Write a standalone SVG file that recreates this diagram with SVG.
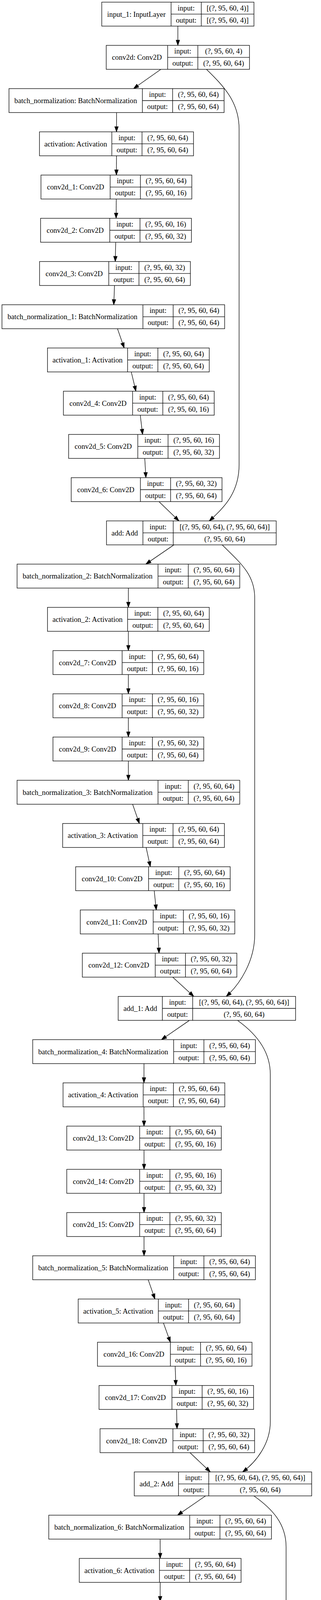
<svg xmlns="http://www.w3.org/2000/svg" width="823" height="5385" viewBox="0 0 823 5385">
<style>
.box{fill:#fff;stroke:#000;stroke-width:1.33}
.dv{fill:none;stroke:#000;stroke-width:1.33}
text{font-family:"Liberation Serif","Times New Roman",serif;font-size:18.67px;text-anchor:middle;fill:#000}
.e{fill:none;stroke:#000;stroke-width:1.33;marker-end:url(#arr)}
</style>
<defs>
<marker id="arr" markerUnits="userSpaceOnUse" viewBox="-1 -1 16 12" markerWidth="16" markerHeight="12" refX="13.33" refY="4.67" orient="auto">
<path d="M0,0 L13.33,4.67 L0,9.33 z" fill="#000" stroke="#000" stroke-width="1"/>
</marker>
</defs>
<rect width="823" height="5385" fill="#fff"/>
<g id="edges">
<path class="e" d="M456,66.83L456,116.17"/>
<path class="e" d="M412.44,177.5L342.36,226.83"/>
<path class="e" d="M298.8,288.17L298.7,337.5"/>
<path class="e" d="M298.62,398.83L298.48,448.17"/>
<path class="e" d="M298.12,509.5L297.68,558.83"/>
<path class="e" d="M296.68,620.17L295.52,669.5"/>
<path class="e" d="M293.61,730.83L291.69,780.17"/>
<path class="e" d="M301.2,841.5L318.4,890.83"/>
<path class="e" d="M336.53,952.17L348.47,1001.5"/>
<path class="e" d="M359.61,1062.83L365.59,1112.17"/>
<path class="e" d="M371.13,1173.5L374.07,1222.83"/>
<path class="e" d="M407.68,1284.17L458.82,1333.5"/>
<path class="e" d="M445.88,1394.83L373.92,1444.17"/>
<path class="e" d="M329.17,1505.5L329.13,1554.83"/>
<path class="e" d="M329.1,1616.17L329.1,1665.5"/>
<path class="e" d="M329.1,1726.83L329.1,1776.17"/>
<path class="e" d="M329.1,1837.5L329.1,1886.83"/>
<path class="e" d="M329.1,1948.17L329.2,1997.5"/>
<path class="e" d="M339.95,2058.83L357.25,2108.17"/>
<path class="e" d="M374.68,2169.5L385.42,2218.83"/>
<path class="e" d="M395.37,2280.17L400.63,2329.5"/>
<path class="e" d="M405.37,2390.83L407.73,2440.17"/>
<path class="e" d="M442.78,2501.5L496.82,2550.83"/>
<path class="e" d="M485.76,2612.17L413.94,2661.5"/>
<path class="e" d="M369.22,2722.83L369.08,2772.17"/>
<path class="e" d="M369.08,2833.5L369.22,2882.83"/>
<path class="e" d="M369.3,2944.17L369.3,2993.5"/>
<path class="e" d="M369.3,3054.83L369.3,3104.17"/>
<path class="e" d="M369.3,3165.5L369.3,3214.83"/>
<path class="e" d="M380,3276.17L397.2,3325.5"/>
<path class="e" d="M419.01,3386.83L436.89,3436.17"/>
<path class="e" d="M449.11,3497.5L450.89,3546.83"/>
<path class="e" d="M452.72,3608.17L453.88,3657.5"/>
<path class="e" d="M487.05,3718.83L539.25,3768.17"/>
<path class="e" d="M527.03,3829.5L455.17,3878.83"/>
<path class="e" d="M410.55,3940.17L410.65,3989.5"/>
<path class="e" d="M410.65,4050.83L410.55,4100.17"/>
<path class="e" d="M410.5,4161.5L410.5,4210.83"/>
<path class="e" d="M410.5,4272.17L410.5,4321.5"/>
<path class="e" d="M410.5,4382.83L410.5,4432.17"/>
<path class="e" d="M421.25,4493.5L438.55,4542.83"/>
<path class="e" d="M450.41,4604.17L452.19,4653.5"/>
<path class="e" d="M454.02,4714.83L455.18,4764.17"/>
<path class="e" d="M456.2,4825.5L456.7,4874.83"/>
<path class="e" d="M489.95,4936.17L542.95,4985.5"/>
<path class="e" d="M575.82,5046.83L575.68,5096.17"/>
<path class="e" d="M575.68,5157.5L575.82,5206.83"/>
<path class="e" d="M575.82,5268.17L575.68,5317.5"/>
<path class="e" d="M529.4,177.5C575,222 613,262 613,330L613,1190C613,1260 575,1300 536.5,1333.5"/>
<path class="e" d="M569.6,1394.83C615,1440 653,1470 653,1530L653,2393C653,2460 615,2520 580,2550.83"/>
<path class="e" d="M609,2612.17C655,2645 693,2690 693,2750L693,3640C693,3695 658,3742 622,3768.17"/>
<path class="e" d="M651,3829.5C697,3862 733.5,3900 733.5,3960L733.5,4811C733.5,4870 665,4925 622,4985.5"/>
</g>
<g id="input_1" transform="translate(260.9,5.5)"><rect class="box" width="390.2" height="61.33"/><path class="dv" d="M177.7,0V61.33M255.2,0V61.33M177.7,30.67H390.2"/><text x="88.85" y="37">input_1: InputLayer</text><text x="216.45" y="21.3">input:</text><text x="216.45" y="52">output:</text><text x="322.7" y="21.3">[(?, 95, 60, 4)]</text><text x="322.7" y="52">[(?, 95, 60, 4)]</text></g>
<g id="conv2d" transform="translate(272.4,116.17)"><rect class="box" width="367.2" height="61.33"/><path class="dv" d="M157.4,0V61.33M234.9,0V61.33M157.4,30.67H367.2"/><text x="78.7" y="37">conv2d: Conv2D</text><text x="196.15" y="21.3">input:</text><text x="196.15" y="52">output:</text><text x="301.05" y="21.3">(?, 95, 60, 4)</text><text x="301.05" y="52">(?, 95, 60, 64)</text></g>
<g id="batch_normalization" transform="translate(23.05,226.83)"><rect class="box" width="551.5" height="61.33"/><path class="dv" d="M342,0V61.33M419.5,0V61.33M342,30.67H551.5"/><text x="171" y="37">batch_normalization: BatchNormalization</text><text x="380.75" y="21.3">input:</text><text x="380.75" y="52">output:</text><text x="485.5" y="21.3">(?, 95, 60, 64)</text><text x="485.5" y="52">(?, 95, 60, 64)</text></g>
<g id="activation" transform="translate(101.25,337.5)"><rect class="box" width="394.9" height="61.33"/><path class="dv" d="M185.4,0V61.33M262.9,0V61.33M185.4,30.67H394.9"/><text x="92.7" y="37">activation: Activation</text><text x="224.15" y="21.3">input:</text><text x="224.15" y="52">output:</text><text x="328.9" y="21.3">(?, 95, 60, 64)</text><text x="328.9" y="52">(?, 95, 60, 64)</text></g>
<g id="conv2d_1" transform="translate(105.05,448.17)"><rect class="box" width="386.7" height="61.33"/><path class="dv" d="M177.4,0V61.33M254.9,0V61.33M177.4,30.67H386.7"/><text x="88.7" y="37">conv2d_1: Conv2D</text><text x="216.15" y="21.3">input:</text><text x="216.15" y="52">output:</text><text x="320.8" y="21.3">(?, 95, 60, 64)</text><text x="320.8" y="52">(?, 95, 60, 16)</text></g>
<g id="conv2d_2" transform="translate(104.05,558.83)"><rect class="box" width="386.7" height="61.33"/><path class="dv" d="M177.4,0V61.33M254.9,0V61.33M177.4,30.67H386.7"/><text x="88.7" y="37">conv2d_2: Conv2D</text><text x="216.15" y="21.3">input:</text><text x="216.15" y="52">output:</text><text x="320.8" y="21.3">(?, 95, 60, 16)</text><text x="320.8" y="52">(?, 95, 60, 32)</text></g>
<g id="conv2d_3" transform="translate(101.45,669.5)"><rect class="box" width="386.7" height="61.33"/><path class="dv" d="M177.4,0V61.33M254.9,0V61.33M177.4,30.67H386.7"/><text x="88.7" y="37">conv2d_3: Conv2D</text><text x="216.15" y="21.3">input:</text><text x="216.15" y="52">output:</text><text x="320.8" y="21.3">(?, 95, 60, 32)</text><text x="320.8" y="52">(?, 95, 60, 64)</text></g>
<g id="batch_normalization_1" transform="translate(5.05,780.17)"><rect class="box" width="570.9" height="61.33"/><path class="dv" d="M361.4,0V61.33M438.9,0V61.33M361.4,30.67H570.9"/><text x="180.7" y="37">batch_normalization_1: BatchNormalization</text><text x="400.15" y="21.3">input:</text><text x="400.15" y="52">output:</text><text x="504.9" y="21.3">(?, 95, 60, 64)</text><text x="504.9" y="52">(?, 95, 60, 64)</text></g>
<g id="activation_1" transform="translate(121.7,890.83)"><rect class="box" width="414.8" height="61.33"/><path class="dv" d="M205.5,0V61.33M283,0V61.33M205.5,30.67H414.8"/><text x="102.75" y="37">activation_1: Activation</text><text x="244.25" y="21.3">input:</text><text x="244.25" y="52">output:</text><text x="348.9" y="21.3">(?, 95, 60, 64)</text><text x="348.9" y="52">(?, 95, 60, 64)</text></g>
<g id="conv2d_4" transform="translate(162.55,1001.5)"><rect class="box" width="386.7" height="61.33"/><path class="dv" d="M177.4,0V61.33M254.9,0V61.33M177.4,30.67H386.7"/><text x="88.7" y="37">conv2d_4: Conv2D</text><text x="216.15" y="21.3">input:</text><text x="216.15" y="52">output:</text><text x="320.8" y="21.3">(?, 95, 60, 64)</text><text x="320.8" y="52">(?, 95, 60, 16)</text></g>
<g id="conv2d_5" transform="translate(175.95,1112.17)"><rect class="box" width="386.7" height="61.33"/><path class="dv" d="M177.4,0V61.33M254.9,0V61.33M177.4,30.67H386.7"/><text x="88.7" y="37">conv2d_5: Conv2D</text><text x="216.15" y="21.3">input:</text><text x="216.15" y="52">output:</text><text x="320.8" y="21.3">(?, 95, 60, 16)</text><text x="320.8" y="52">(?, 95, 60, 32)</text></g>
<g id="conv2d_6" transform="translate(182.55,1222.83)"><rect class="box" width="386.7" height="61.33"/><path class="dv" d="M177.4,0V61.33M254.9,0V61.33M177.4,30.67H386.7"/><text x="88.7" y="37">conv2d_6: Conv2D</text><text x="216.15" y="21.3">input:</text><text x="216.15" y="52">output:</text><text x="320.8" y="21.3">(?, 95, 60, 32)</text><text x="320.8" y="52">(?, 95, 60, 64)</text></g>
<g id="add" transform="translate(273.05,1333.5)"><rect class="box" width="435.1" height="61.33"/><path class="dv" d="M93.4,0V61.33M171.1,0V61.33M93.4,30.67H435.1"/><text x="46.7" y="37">add: Add</text><text x="132.25" y="21.3">input:</text><text x="132.25" y="52">output:</text><text x="303.1" y="21.3">[(?, 95, 60, 64), (?, 95, 60, 64)]</text><text x="303.1" y="52">(?, 95, 60, 64)</text></g>
<g id="batch_normalization_2" transform="translate(43.75,1444.17)"><rect class="box" width="570.9" height="61.33"/><path class="dv" d="M361.4,0V61.33M438.9,0V61.33M361.4,30.67H570.9"/><text x="180.7" y="37">batch_normalization_2: BatchNormalization</text><text x="400.15" y="21.3">input:</text><text x="400.15" y="52">output:</text><text x="504.9" y="21.3">(?, 95, 60, 64)</text><text x="504.9" y="52">(?, 95, 60, 64)</text></g>
<g id="activation_2" transform="translate(121.7,1554.83)"><rect class="box" width="414.8" height="61.33"/><path class="dv" d="M205.5,0V61.33M283,0V61.33M205.5,30.67H414.8"/><text x="102.75" y="37">activation_2: Activation</text><text x="244.25" y="21.3">input:</text><text x="244.25" y="52">output:</text><text x="348.9" y="21.3">(?, 95, 60, 64)</text><text x="348.9" y="52">(?, 95, 60, 64)</text></g>
<g id="conv2d_7" transform="translate(135.75,1665.5)"><rect class="box" width="386.7" height="61.33"/><path class="dv" d="M177.4,0V61.33M254.9,0V61.33M177.4,30.67H386.7"/><text x="88.7" y="37">conv2d_7: Conv2D</text><text x="216.15" y="21.3">input:</text><text x="216.15" y="52">output:</text><text x="320.8" y="21.3">(?, 95, 60, 64)</text><text x="320.8" y="52">(?, 95, 60, 16)</text></g>
<g id="conv2d_8" transform="translate(135.75,1776.17)"><rect class="box" width="386.7" height="61.33"/><path class="dv" d="M177.4,0V61.33M254.9,0V61.33M177.4,30.67H386.7"/><text x="88.7" y="37">conv2d_8: Conv2D</text><text x="216.15" y="21.3">input:</text><text x="216.15" y="52">output:</text><text x="320.8" y="21.3">(?, 95, 60, 16)</text><text x="320.8" y="52">(?, 95, 60, 32)</text></g>
<g id="conv2d_9" transform="translate(135.75,1886.83)"><rect class="box" width="386.7" height="61.33"/><path class="dv" d="M177.4,0V61.33M254.9,0V61.33M177.4,30.67H386.7"/><text x="88.7" y="37">conv2d_9: Conv2D</text><text x="216.15" y="21.3">input:</text><text x="216.15" y="52">output:</text><text x="320.8" y="21.3">(?, 95, 60, 32)</text><text x="320.8" y="52">(?, 95, 60, 64)</text></g>
<g id="batch_normalization_3" transform="translate(43.75,1997.5)"><rect class="box" width="570.9" height="61.33"/><path class="dv" d="M361.4,0V61.33M438.9,0V61.33M361.4,30.67H570.9"/><text x="180.7" y="37">batch_normalization_3: BatchNormalization</text><text x="400.15" y="21.3">input:</text><text x="400.15" y="52">output:</text><text x="504.9" y="21.3">(?, 95, 60, 64)</text><text x="504.9" y="52">(?, 95, 60, 64)</text></g>
<g id="activation_3" transform="translate(160.6,2108.17)"><rect class="box" width="414.8" height="61.33"/><path class="dv" d="M205.5,0V61.33M283,0V61.33M205.5,30.67H414.8"/><text x="102.75" y="37">activation_3: Activation</text><text x="244.25" y="21.3">input:</text><text x="244.25" y="52">output:</text><text x="348.9" y="21.3">(?, 95, 60, 64)</text><text x="348.9" y="52">(?, 95, 60, 64)</text></g>
<g id="conv2d_10" transform="translate(194,2218.83)"><rect class="box" width="396.2" height="61.33"/><path class="dv" d="M186.9,0V61.33M264.4,0V61.33M186.9,30.67H396.2"/><text x="93.45" y="37">conv2d_10: Conv2D</text><text x="225.65" y="21.3">input:</text><text x="225.65" y="52">output:</text><text x="330.3" y="21.3">(?, 95, 60, 64)</text><text x="330.3" y="52">(?, 95, 60, 16)</text></g>
<g id="conv2d_11" transform="translate(205.8,2329.5)"><rect class="box" width="396.2" height="61.33"/><path class="dv" d="M186.9,0V61.33M264.4,0V61.33M186.9,30.67H396.2"/><text x="93.45" y="37">conv2d_11: Conv2D</text><text x="225.65" y="21.3">input:</text><text x="225.65" y="52">output:</text><text x="330.3" y="21.3">(?, 95, 60, 16)</text><text x="330.3" y="52">(?, 95, 60, 32)</text></g>
<g id="conv2d_12" transform="translate(211.1,2440.17)"><rect class="box" width="396.2" height="61.33"/><path class="dv" d="M186.9,0V61.33M264.4,0V61.33M186.9,30.67H396.2"/><text x="93.45" y="37">conv2d_12: Conv2D</text><text x="225.65" y="21.3">input:</text><text x="225.65" y="52">output:</text><text x="330.3" y="21.3">(?, 95, 60, 32)</text><text x="330.3" y="52">(?, 95, 60, 64)</text></g>
<g id="add_1" transform="translate(303,2550.83)"><rect class="box" width="454.8" height="61.33"/><path class="dv" d="M113.3,0V61.33M191,0V61.33M113.3,30.67H454.8"/><text x="56.65" y="37">add_1: Add</text><text x="152.15" y="21.3">input:</text><text x="152.15" y="52">output:</text><text x="322.9" y="21.3">[(?, 95, 60, 64), (?, 95, 60, 64)]</text><text x="322.9" y="52">(?, 95, 60, 64)</text></g>
<g id="batch_normalization_4" transform="translate(83.85,2661.5)"><rect class="box" width="570.9" height="61.33"/><path class="dv" d="M361.4,0V61.33M438.9,0V61.33M361.4,30.67H570.9"/><text x="180.7" y="37">batch_normalization_4: BatchNormalization</text><text x="400.15" y="21.3">input:</text><text x="400.15" y="52">output:</text><text x="504.9" y="21.3">(?, 95, 60, 64)</text><text x="504.9" y="52">(?, 95, 60, 64)</text></g>
<g id="activation_4" transform="translate(161.6,2772.17)"><rect class="box" width="414.8" height="61.33"/><path class="dv" d="M205.5,0V61.33M283,0V61.33M205.5,30.67H414.8"/><text x="102.75" y="37">activation_4: Activation</text><text x="244.25" y="21.3">input:</text><text x="244.25" y="52">output:</text><text x="348.9" y="21.3">(?, 95, 60, 64)</text><text x="348.9" y="52">(?, 95, 60, 64)</text></g>
<g id="conv2d_13" transform="translate(171.2,2882.83)"><rect class="box" width="396.2" height="61.33"/><path class="dv" d="M186.9,0V61.33M264.4,0V61.33M186.9,30.67H396.2"/><text x="93.45" y="37">conv2d_13: Conv2D</text><text x="225.65" y="21.3">input:</text><text x="225.65" y="52">output:</text><text x="330.3" y="21.3">(?, 95, 60, 64)</text><text x="330.3" y="52">(?, 95, 60, 16)</text></g>
<g id="conv2d_14" transform="translate(171.2,2993.5)"><rect class="box" width="396.2" height="61.33"/><path class="dv" d="M186.9,0V61.33M264.4,0V61.33M186.9,30.67H396.2"/><text x="93.45" y="37">conv2d_14: Conv2D</text><text x="225.65" y="21.3">input:</text><text x="225.65" y="52">output:</text><text x="330.3" y="21.3">(?, 95, 60, 16)</text><text x="330.3" y="52">(?, 95, 60, 32)</text></g>
<g id="conv2d_15" transform="translate(171.2,3104.17)"><rect class="box" width="396.2" height="61.33"/><path class="dv" d="M186.9,0V61.33M264.4,0V61.33M186.9,30.67H396.2"/><text x="93.45" y="37">conv2d_15: Conv2D</text><text x="225.65" y="21.3">input:</text><text x="225.65" y="52">output:</text><text x="330.3" y="21.3">(?, 95, 60, 32)</text><text x="330.3" y="52">(?, 95, 60, 64)</text></g>
<g id="batch_normalization_5" transform="translate(83.85,3214.83)"><rect class="box" width="570.9" height="61.33"/><path class="dv" d="M361.4,0V61.33M438.9,0V61.33M361.4,30.67H570.9"/><text x="180.7" y="37">batch_normalization_5: BatchNormalization</text><text x="400.15" y="21.3">input:</text><text x="400.15" y="52">output:</text><text x="504.9" y="21.3">(?, 95, 60, 64)</text><text x="504.9" y="52">(?, 95, 60, 64)</text></g>
<g id="activation_5" transform="translate(200.5,3325.5)"><rect class="box" width="414.8" height="61.33"/><path class="dv" d="M205.5,0V61.33M283,0V61.33M205.5,30.67H414.8"/><text x="102.75" y="37">activation_5: Activation</text><text x="244.25" y="21.3">input:</text><text x="244.25" y="52">output:</text><text x="348.9" y="21.3">(?, 95, 60, 64)</text><text x="348.9" y="52">(?, 95, 60, 64)</text></g>
<g id="conv2d_16" transform="translate(249.9,3436.17)"><rect class="box" width="396.2" height="61.33"/><path class="dv" d="M186.9,0V61.33M264.4,0V61.33M186.9,30.67H396.2"/><text x="93.45" y="37">conv2d_16: Conv2D</text><text x="225.65" y="21.3">input:</text><text x="225.65" y="52">output:</text><text x="330.3" y="21.3">(?, 95, 60, 64)</text><text x="330.3" y="52">(?, 95, 60, 16)</text></g>
<g id="conv2d_17" transform="translate(253.9,3546.83)"><rect class="box" width="396.2" height="61.33"/><path class="dv" d="M186.9,0V61.33M264.4,0V61.33M186.9,30.67H396.2"/><text x="93.45" y="37">conv2d_17: Conv2D</text><text x="225.65" y="21.3">input:</text><text x="225.65" y="52">output:</text><text x="330.3" y="21.3">(?, 95, 60, 16)</text><text x="330.3" y="52">(?, 95, 60, 32)</text></g>
<g id="conv2d_18" transform="translate(256.5,3657.5)"><rect class="box" width="396.2" height="61.33"/><path class="dv" d="M186.9,0V61.33M264.4,0V61.33M186.9,30.67H396.2"/><text x="93.45" y="37">conv2d_18: Conv2D</text><text x="225.65" y="21.3">input:</text><text x="225.65" y="52">output:</text><text x="330.3" y="21.3">(?, 95, 60, 32)</text><text x="330.3" y="52">(?, 95, 60, 64)</text></g>
<g id="add_2" transform="translate(344.3,3768.17)"><rect class="box" width="454.8" height="61.33"/><path class="dv" d="M113.3,0V61.33M191,0V61.33M113.3,30.67H454.8"/><text x="56.65" y="37">add_2: Add</text><text x="152.15" y="21.3">input:</text><text x="152.15" y="52">output:</text><text x="322.9" y="21.3">[(?, 95, 60, 64), (?, 95, 60, 64)]</text><text x="322.9" y="52">(?, 95, 60, 64)</text></g>
<g id="batch_normalization_6" transform="translate(125.05,3878.83)"><rect class="box" width="570.9" height="61.33"/><path class="dv" d="M361.4,0V61.33M438.9,0V61.33M361.4,30.67H570.9"/><text x="180.7" y="37">batch_normalization_6: BatchNormalization</text><text x="400.15" y="21.3">input:</text><text x="400.15" y="52">output:</text><text x="504.9" y="21.3">(?, 95, 60, 64)</text><text x="504.9" y="52">(?, 95, 60, 64)</text></g>
<g id="activation_6" transform="translate(203.3,3989.5)"><rect class="box" width="414.8" height="61.33"/><path class="dv" d="M205.5,0V61.33M283,0V61.33M205.5,30.67H414.8"/><text x="102.75" y="37">activation_6: Activation</text><text x="244.25" y="21.3">input:</text><text x="244.25" y="52">output:</text><text x="348.9" y="21.3">(?, 95, 60, 64)</text><text x="348.9" y="52">(?, 95, 60, 64)</text></g>
<g id="conv2d_19" transform="translate(212.4,4100.17)"><rect class="box" width="396.2" height="61.33"/><path class="dv" d="M186.9,0V61.33M264.4,0V61.33M186.9,30.67H396.2"/><text x="93.45" y="37">conv2d_19: Conv2D</text><text x="225.65" y="21.3">input:</text><text x="225.65" y="52">output:</text><text x="330.3" y="21.3">(?, 95, 60, 64)</text><text x="330.3" y="52">(?, 95, 60, 16)</text></g>
<g id="conv2d_20" transform="translate(212.4,4210.83)"><rect class="box" width="396.2" height="61.33"/><path class="dv" d="M186.9,0V61.33M264.4,0V61.33M186.9,30.67H396.2"/><text x="93.45" y="37">conv2d_20: Conv2D</text><text x="225.65" y="21.3">input:</text><text x="225.65" y="52">output:</text><text x="330.3" y="21.3">(?, 95, 60, 16)</text><text x="330.3" y="52">(?, 95, 60, 32)</text></g>
<g id="conv2d_21" transform="translate(212.4,4321.5)"><rect class="box" width="396.2" height="61.33"/><path class="dv" d="M186.9,0V61.33M264.4,0V61.33M186.9,30.67H396.2"/><text x="93.45" y="37">conv2d_21: Conv2D</text><text x="225.65" y="21.3">input:</text><text x="225.65" y="52">output:</text><text x="330.3" y="21.3">(?, 95, 60, 32)</text><text x="330.3" y="52">(?, 95, 60, 64)</text></g>
<g id="batch_normalization_7" transform="translate(125.05,4432.17)"><rect class="box" width="570.9" height="61.33"/><path class="dv" d="M361.4,0V61.33M438.9,0V61.33M361.4,30.67H570.9"/><text x="180.7" y="37">batch_normalization_7: BatchNormalization</text><text x="400.15" y="21.3">input:</text><text x="400.15" y="52">output:</text><text x="504.9" y="21.3">(?, 95, 60, 64)</text><text x="504.9" y="52">(?, 95, 60, 64)</text></g>
<g id="activation_7" transform="translate(241.9,4542.83)"><rect class="box" width="414.8" height="61.33"/><path class="dv" d="M205.5,0V61.33M283,0V61.33M205.5,30.67H414.8"/><text x="102.75" y="37">activation_7: Activation</text><text x="244.25" y="21.3">input:</text><text x="244.25" y="52">output:</text><text x="348.9" y="21.3">(?, 95, 60, 64)</text><text x="348.9" y="52">(?, 95, 60, 64)</text></g>
<g id="conv2d_22" transform="translate(255.2,4653.5)"><rect class="box" width="396.2" height="61.33"/><path class="dv" d="M186.9,0V61.33M264.4,0V61.33M186.9,30.67H396.2"/><text x="93.45" y="37">conv2d_22: Conv2D</text><text x="225.65" y="21.3">input:</text><text x="225.65" y="52">output:</text><text x="330.3" y="21.3">(?, 95, 60, 64)</text><text x="330.3" y="52">(?, 95, 60, 16)</text></g>
<g id="conv2d_23" transform="translate(257.8,4764.17)"><rect class="box" width="396.2" height="61.33"/><path class="dv" d="M186.9,0V61.33M264.4,0V61.33M186.9,30.67H396.2"/><text x="93.45" y="37">conv2d_23: Conv2D</text><text x="225.65" y="21.3">input:</text><text x="225.65" y="52">output:</text><text x="330.3" y="21.3">(?, 95, 60, 16)</text><text x="330.3" y="52">(?, 95, 60, 32)</text></g>
<g id="conv2d_24" transform="translate(258.9,4874.83)"><rect class="box" width="396.2" height="61.33"/><path class="dv" d="M186.9,0V61.33M264.4,0V61.33M186.9,30.67H396.2"/><text x="93.45" y="37">conv2d_24: Conv2D</text><text x="225.65" y="21.3">input:</text><text x="225.65" y="52">output:</text><text x="330.3" y="21.3">(?, 95, 60, 32)</text><text x="330.3" y="52">(?, 95, 60, 64)</text></g>
<g id="add_3" transform="translate(348.5,4985.5)"><rect class="box" width="454.8" height="61.33"/><path class="dv" d="M113.3,0V61.33M191,0V61.33M113.3,30.67H454.8"/><text x="56.65" y="37">add_3: Add</text><text x="152.15" y="21.3">input:</text><text x="152.15" y="52">output:</text><text x="322.9" y="21.3">[(?, 95, 60, 64), (?, 95, 60, 64)]</text><text x="322.9" y="52">(?, 95, 60, 64)</text></g>
<g id="max_pooling2d" transform="translate(333.35,5096.17)"><rect class="box" width="484.5" height="61.33"/><path class="dv" d="M275.1,0V61.33M352.8,0V61.33M275.1,30.67H484.5"/><text x="137.55" y="37">max_pooling2d: MaxPooling2D</text><text x="313.95" y="21.3">input:</text><text x="313.95" y="52">output:</text><text x="418.65" y="21.3">(?, 95, 60, 64)</text><text x="418.65" y="52">(?, 13, 8, 64)</text></g>
<g id="flatten" transform="translate(410.5,5206.83)"><rect class="box" width="330.8" height="61.33"/><path class="dv" d="M130.7,0V61.33M208.2,0V61.33M130.7,30.67H330.8"/><text x="65.35" y="37">flatten: Flatten</text><text x="169.45" y="21.3">input:</text><text x="169.45" y="52">output:</text><text x="269.5" y="21.3">(?, 13, 8, 64)</text><text x="269.5" y="52">(?, 6656)</text></g>
<g id="dense" transform="translate(429.3,5317.5)"><rect class="box" width="292.6" height="61.33"/><path class="dv" d="M123.4,0V61.33M200.4,0V61.33M123.4,30.67H292.6"/><text x="61.7" y="37">dense: Dense</text><text x="161.9" y="21.3">input:</text><text x="161.9" y="52">output:</text><text x="246.5" y="21.3">(?, 6656)</text><text x="246.5" y="52">(?, 5700)</text></g>
</svg>
